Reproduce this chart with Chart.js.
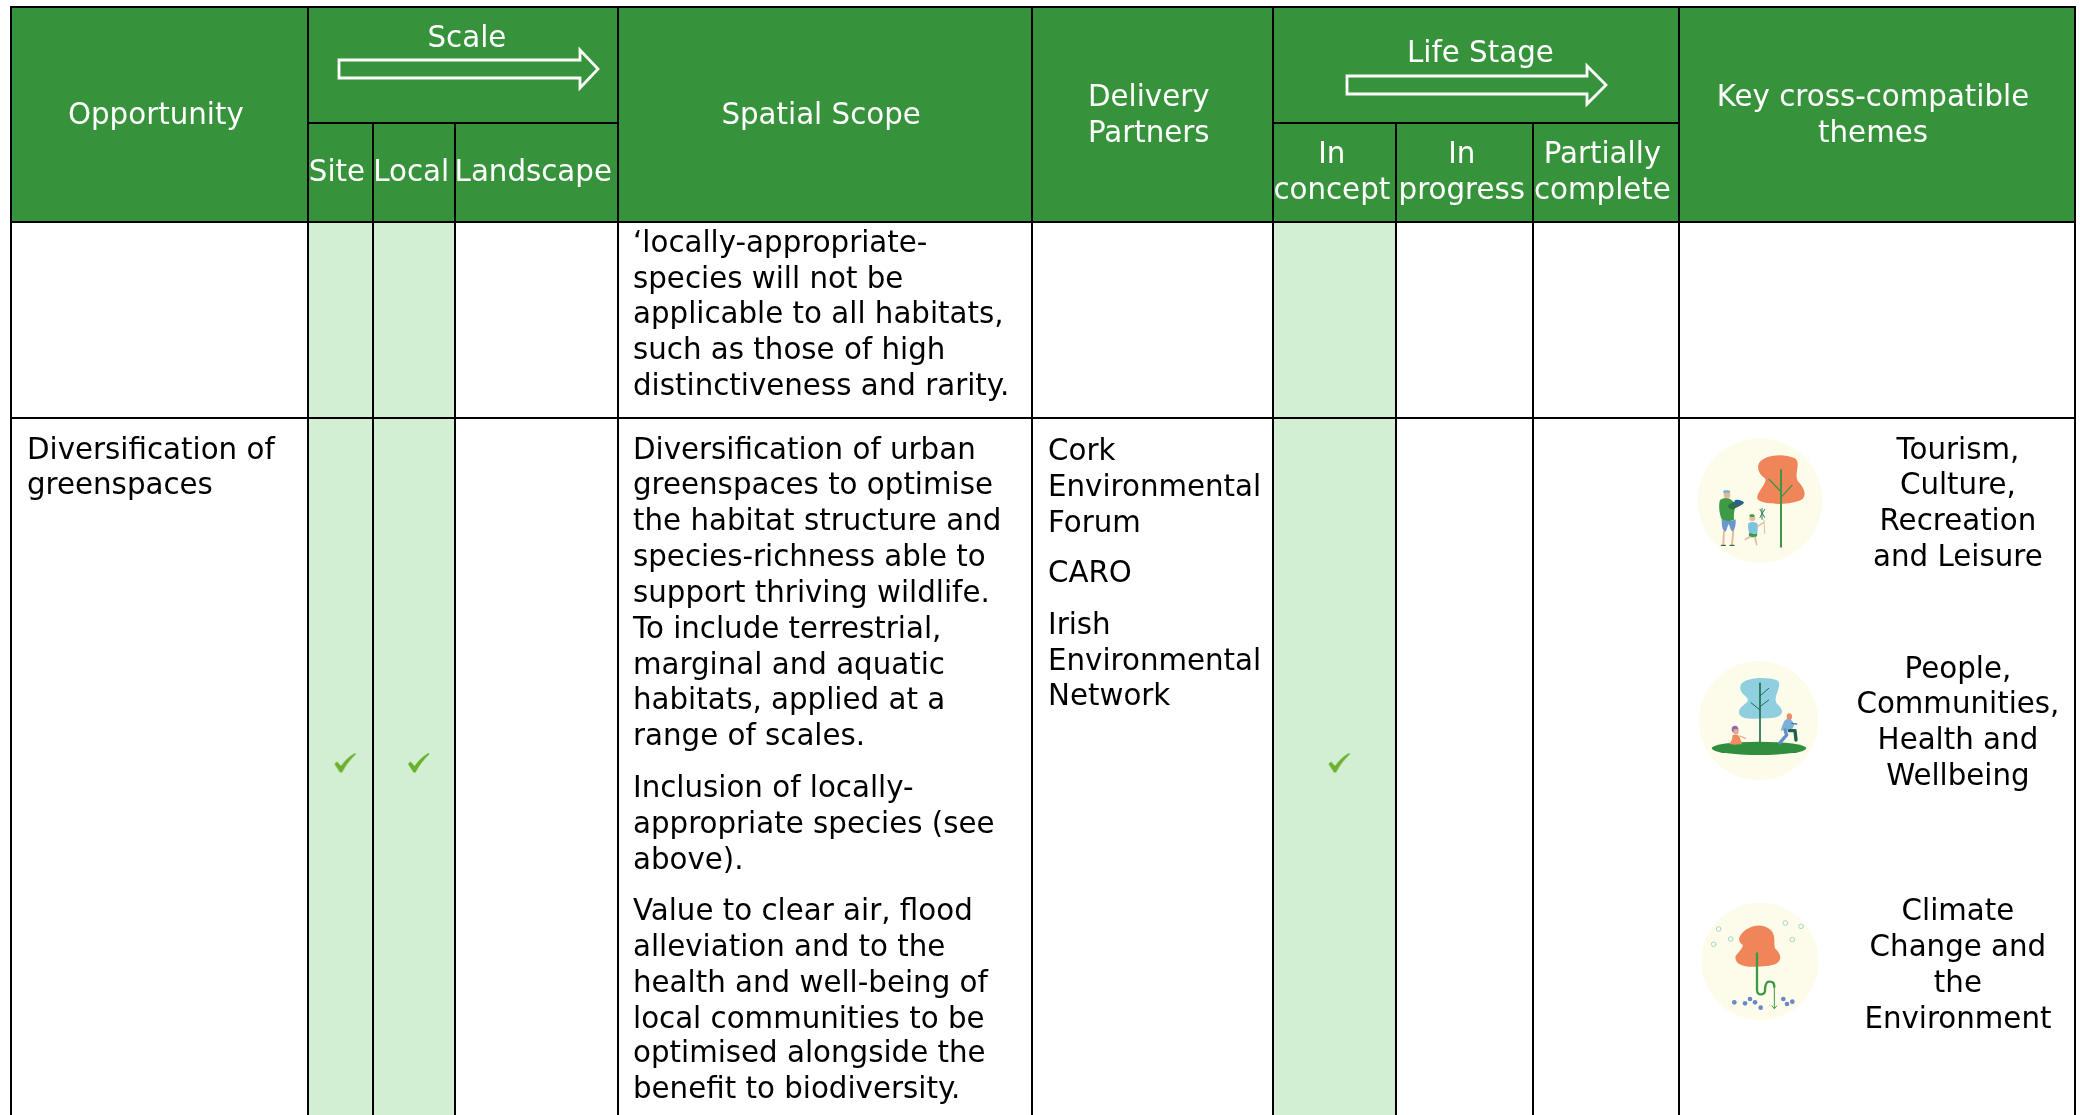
<!DOCTYPE html>
<html><head><meta charset="utf-8">
<style>html,body{margin:0;padding:0;background:#fff}canvas{display:block}</style>
<script src="https://cdn.jsdelivr.net/npm/chart.js@4"></script></head>
<body><canvas id="c" width="2080" height="1115"></canvas>
<script>
/* ---------- table content ---------- */
const scaleLevels = ['Site','Local','Landscape'];
const scaleChecks = [1,1,0];
const stageLevels = [['In','concept'],['In','progress'],['Partially','complete']];
const stageChecks = [1,0,0];
const headTitles = ['Opportunity','Scale','Spatial Scope','Life Stage'];
const headDelivery = ['Delivery','Partners'];
const headThemes = ['Key cross-compatible','themes'];
const carryLines = ['‘locally-appropriate-','species will not be','applicable to all habitats,','such as those of high','distinctiveness and rarity.'];
const opportunityLines = ['Diversification of','greenspaces'];
const scopeLines = ['Diversification of urban','greenspaces to optimise','the habitat structure and','species-richness able to','support thriving wildlife.','To include terrestrial,','marginal and aquatic','habitats, applied at a','range of scales.','Inclusion of locally-','appropriate species (see','above).','Value to clear air, flood','alleviation and to the','health and well-being of','local communities to be','optimised alongside the','benefit to biodiversity.'];
const partnerLines = ['Cork','Environmental','Forum','CARO','Irish','Environmental','Network'];
const themeLines = [['Tourism,','Culture,','Recreation','and Leisure'],['People,','Communities,','Health and','Wellbeing'],['Climate','Change and','the','Environment']];

/* ---------- layout (scale units = table pixels) ---------- */
const W=2080,H=1115;
const K=1.3265, DY=2.7;
const colX={left:11,scale:308,local:373,land:455,scope:618,deliv:1032,stage:1273,prog:1396,part:1533,theme:1679,right:2075};
const rowY={top:7,sub:123,head:222,row:418,bottom:1115};
const scopeY=[338,365,392,419,446,473,500,527,554,593,620,647,686,713,740,767,793,820].map(v=>v*K+DY);
const carryY=[182,209,236,263,290].map(v=>v*K+DY);
const partnerY=[339,366,393,431,470,497,524].map(v=>v*K+DY);
const themeY=[[338,365,392,419],[503,530,557,584],[686,713,740,767]].map(a=>a.map(v=>v*K+DY));
const checkRowY=763, checkShift=5;

const GREEN='#37933b', PALE='#d2eed3', TICK='#6bb02f';
const BODY='29.3px "DejaVu Sans"', HEAD='29.3px "DejaVu Sans"';

/* ---------- marks ---------- */
function rectBar(x0,x1,y0,y1,color,order){
  return {type:'bar',data:[{x:(x0+x1)/2,y:[y0,y1]}],backgroundColor:color,borderWidth:0,barThickness:x1-x0,grouped:false,order:order,clip:false};
}
const segs=[];
function seg(x0,y0,x1,y1){segs.push({x:x0,y:y0},{x:x1,y:y1},{x:NaN,y:NaN});}
[colX.left,colX.scale,colX.scope,colX.deliv,colX.stage,colX.theme,colX.right].forEach(x=>seg(x,rowY.top-1,x,rowY.bottom));
[colX.local,colX.land,colX.prog,colX.part].forEach(x=>seg(x,rowY.sub,x,rowY.bottom));
seg(colX.left-1,rowY.top,colX.right+1,rowY.top);
seg(colX.scale,rowY.sub,colX.scope,rowY.sub);
seg(colX.stage,rowY.sub,colX.theme,rowY.sub);
seg(colX.left-1,rowY.head,colX.right+1,rowY.head);
seg(colX.left-1,rowY.row,colX.right+1,rowY.row);

const scaleEdges=[colX.scale,colX.local,colX.land,colX.scope];
const stageEdges=[colX.stage,colX.prog,colX.part,colX.theme];
const checks=[];
scaleChecks.forEach((c,i)=>{if(c)checks.push({x:(scaleEdges[i]+scaleEdges[i+1])/2+checkShift,y:checkRowY});});
stageChecks.forEach((c,i)=>{if(c)checks.push({x:(stageEdges[i]+stageEdges[i+1])/2+checkShift,y:checkRowY});});

const tick=document.createElement('canvas');tick.width=24;tick.height=22;
(function(){const g=tick.getContext('2d');g.fillStyle=TICK;g.beginPath();
g.moveTo(1,12);g.lineTo(3.5,9.5);g.lineTo(7.5,14);g.quadraticCurveTo(13,6,21.5,1);g.lineTo(22.5,2);
g.quadraticCurveTo(14,10,8.5,20.5);g.lineTo(6.5,20.5);g.closePath();g.fill();})();

/* ---------- icons: drawn around a centre, in 3x crop units ---------- */
function blob(g,pts,color){g.fillStyle=color;g.beginPath();g.moveTo(pts[0],pts[1]);
  for(let i=2;i<pts.length;i+=6)g.bezierCurveTo(pts[i],pts[i+1],pts[i+2],pts[i+3],pts[i+4],pts[i+5]);g.closePath();g.fill();}
function stroke(g,pts,color,w){g.strokeStyle=color;g.lineWidth=w;g.lineCap='round';g.lineJoin='round';g.beginPath();g.moveTo(pts[0],pts[1]);
  for(let i=2;i<pts.length;i+=2)g.lineTo(pts[i],pts[i+1]);g.stroke();}
function disc(g,x,y,rx,ry,color){g.fillStyle=color;g.beginPath();g.ellipse(x,y,rx,ry,0,0,7);g.fill();}
function icon1(g){
  disc(g,270,242,187,187,'#fdfcea');
  blob(g,[265,135, 270,110,330,95,375,115, 395,130,370,165,385,185, 405,205,415,235,385,243, 350,255,290,255,265,240, 250,225,295,190,285,175, 270,165,262,150,265,135],'#f0855a');
  stroke(g,[333,150,333,380],'#3f9546',6);stroke(g,[333,215,297,178],'#3f9546',4);stroke(g,[333,232,366,196],'#3f9546',4);
  blob(g,[150,240, 165,230,180,232,195,250, 200,262,190,265,192,300, 180,305,165,305,155,298, 148,280,145,255,150,240],'#3f9a48');
  disc(g,171,225,10,10,'#e8b79a');disc(g,170,215,11,5,'#7fb6d5');
  blob(g,[175,255, 190,245,205,240,220,245, 222,255,205,258,190,268, 180,270,172,262,175,255],'#2f6d4d');
  blob(g,[195,240,205,238,215,240,222,248, 215,256,205,255,195,252, 193,248,193,244,195,240],'#2b5f97');
  blob(g,[155,298,170,305,185,305,197,298, 198,315,195,325,190,335, 182,335,180,320,176,312, 172,320,170,330,167,335, 158,335,155,320,155,298],'#6b97cf');
  stroke(g,[162,335,160,372],'#e6bb9e',6);stroke(g,[190,335,186,372],'#e6bb9e',6);
  stroke(g,[154,376,166,376],'#2f6d4d',4);stroke(g,[180,376,192,376],'#2f6d4d',4);
  disc(g,247,294,9,10,'#e6bb9e');disc(g,246,287,8,4,'#3f9546');
  blob(g,[235,310,245,303,258,305,263,312, 265,322,262,332,262,340, 250,342,240,340,237,338, 235,328,233,318,235,310],'#7cc4de');
  blob(g,[238,338,250,342,258,342,262,340, 262,346,260,350,258,352, 250,352,245,352,238,350, 236,346,236,342,238,338],'#3f9a48');
  stroke(g,[240,350,226,358],'#e6bb9e',5);stroke(g,[255,352,260,374],'#e6bb9e',5);stroke(g,[262,320,280,308],'#e6bb9e',4);
  stroke(g,[282,300,284,340],'#c9a37e',2);
  stroke(g,[270,268,284,292],'#2f7d62',3);stroke(g,[284,268,270,292],'#2f7d62',3);stroke(g,[276,265,276,298],'#2f7d62',3);
}
function icon2(g){
  disc(g,266,902,179,179,'#fdfcea');
  blob(g,[212,795, 225,770,290,770,320,780, 345,795,300,835,325,855, 350,880,330,895,290,895, 250,897,205,900,207,875, 210,855,240,850,232,835, 225,825,205,815,212,795],'#8fcfe0');
  stroke(g,[270,790,270,970],'#1f6d4c',5);stroke(g,[270,828,296,805],'#1f6d4c',3);stroke(g,[270,860,296,840],'#1f6d4c',3);stroke(g,[270,870,243,848],'#1f6d4c',3);
  disc(g,267,985,142,20,'#2f8f3e');
  disc(g,195,928,10,11,'#8a6bb5');disc(g,198,935,8,8,'#e8a98c');
  blob(g,[188,945,200,940,210,945,212,960, 216,970,218,975,210,973, 195,975,180,975,178,970, 185,965,187,955,188,945],'#ee8d64');
  stroke(g,[210,948,226,955],'#e8a98c',4);
  disc(g,358,890,8,10,'#ee8d64');
  blob(g,[345,900,355,893,368,897,372,915, 370,925,365,930,358,932, 348,932,340,925,332,935, 335,920,340,908,345,900],'#7db0d8');
  stroke(g,[358,932,375,932,378,960],'#1f5f4d',10);stroke(g,[345,930,350,945,330,968],'#5f8fc8',10);
  stroke(g,[365,910,380,912],'#3f7fb0',4);
}
function icon3(g){
  disc(g,270,424,176,176,'#fdfcea');
  blob(g,[212,345, 225,325,265,305,295,325, 320,340,310,365,315,385, 345,415,330,435,290,438, 250,442,195,445,196,410, 205,395,220,385,218,375, 205,365,205,355,212,345],'#f0855a');
  g.lineCap='round';g.lineJoin='round';g.strokeStyle='#3d9a42';g.lineWidth=7;g.beginPath();g.moveTo(261,400);g.lineTo(261,510);g.quadraticCurveTo(262,525,275,523);g.quadraticCurveTo(287,522,285,505);g.lineTo(287,495);g.quadraticCurveTo(290,484,300,485);g.quadraticCurveTo(313,485,313,500);g.stroke();
  stroke(g,[313,500,313,565],'#3d9a42',3);stroke(g,[306,558,313,566,320,558],'#3d9a42',3);
  [[193,547],[225,550],[240,537],[255,547],[272,563],[340,537],[351,552],[367,545]].forEach(p=>disc(g,p[0],p[1],7,7,'#6a88c9'));
  g.strokeStyle='#a8d6d0';g.lineWidth=3;[[146,327],[131,373],[182,357],[346,309],[393,319],[367,359]].forEach(p=>{g.beginPath();g.arc(p[0],p[1],7,0,7);g.stroke();});
}

const tablePainter={id:'tablePainter',afterDatasetsDraw(chart){
  const g=chart.ctx,X=v=>chart.scales.x.getPixelForValue(v),Y=v=>chart.scales.y.getPixelForValue(v);
  g.save();g.textBaseline='middle';
  function put(t,x,y,align,font,color){g.font=font;g.fillStyle=color;g.textAlign=align;g.fillText(t,X(x),Y(y));}
  const hc=(t,x,y)=>put(t,x,y*K+DY,'center',HEAD,'#fff');
  hc(headTitles[0],117.5*K,86);hc(headTitles[1],352*K,28);hc(headTitles[2],619*K,86);hc(headTitles[3],1116*K,39);
  headDelivery.forEach((t,i)=>hc(t,866*K,72+27*i));
  headThemes.forEach((t,i)=>hc(t,1412*K,72+27*i));
  const sx=[254,310,402];scaleLevels.forEach((t,i)=>hc(t,sx[i]*K,129));
  const tx=[1004,1102,1208];stageLevels.forEach((a,i)=>a.forEach((t,j)=>hc(t,tx[i]*K,115+27*j)));
  g.strokeStyle='#fff';g.lineWidth=2.8;g.lineJoin='miter';
  [[339,598,580,60,78,50,88,69],[1347,1606,1587,76,94,66,104,85]].forEach(a=>{
    g.beginPath();g.moveTo(X(a[0]),Y(a[3]));g.lineTo(X(a[2]),Y(a[3]));g.lineTo(X(a[2]),Y(a[5]));g.lineTo(X(a[1]),Y(a[7]));g.lineTo(X(a[2]),Y(a[6]));g.lineTo(X(a[2]),Y(a[4]));g.lineTo(X(a[0]),Y(a[4]));g.closePath();g.stroke();});
  const bx=633,lx=27;
  carryLines.forEach((t,i)=>put(t,bx,carryY[i],'left',BODY,'#000'));
  scopeLines.forEach((t,i)=>put(t,bx,scopeY[i],'left',BODY,'#000'));
  opportunityLines.forEach((t,i)=>put(t,lx,(338+27*i)*K+DY,'left',BODY,'#000'));
  partnerLines.forEach((t,i)=>put(t,1048,partnerY[i],'left',BODY,'#000'));
  themeLines.forEach((a,i)=>a.forEach((t,j)=>put(t,1476*K,themeY[i][j],'center',BODY,'#000')));
  [[1670,420,icon1],[1670,420,icon2],[1670,820,icon3]].forEach(a=>{
    g.save();g.translate(X(a[0]),Y(a[1]));g.scale(1/3,1/3);a[2](g);g.restore();});
  g.restore();
}};

new Chart(document.getElementById('c'),{
  type:'bar',
  data:{datasets:[
    rectBar(colX.left,colX.right,rowY.top,rowY.head,GREEN,5),
    rectBar(scaleEdges[0],scaleEdges[1],rowY.head,rowY.bottom,PALE,5),
    rectBar(scaleEdges[1],scaleEdges[2],rowY.head,rowY.bottom,PALE,5),
    rectBar(stageEdges[0],stageEdges[1],rowY.head,rowY.bottom,PALE,5),
    {type:'scatter',data:segs,showLine:true,spanGaps:false,borderColor:'#000',borderWidth:2,borderCapStyle:'butt',pointRadius:0,order:2,clip:false},
    {type:'scatter',data:checks,showLine:false,pointStyle:tick,pointRadius:10,order:1,clip:false}
  ]},
  options:{responsive:false,animation:false,events:[],layout:{padding:0,autoPadding:false},
    plugins:{legend:{display:false},tooltip:{enabled:false},title:{display:false}},
    scales:{x:{type:'linear',min:0,max:W,offset:false,display:false},y:{type:'linear',min:0,max:H,reverse:true,display:false,stacked:false}}
  },
  plugins:[tablePainter]
});
</script></body></html>
